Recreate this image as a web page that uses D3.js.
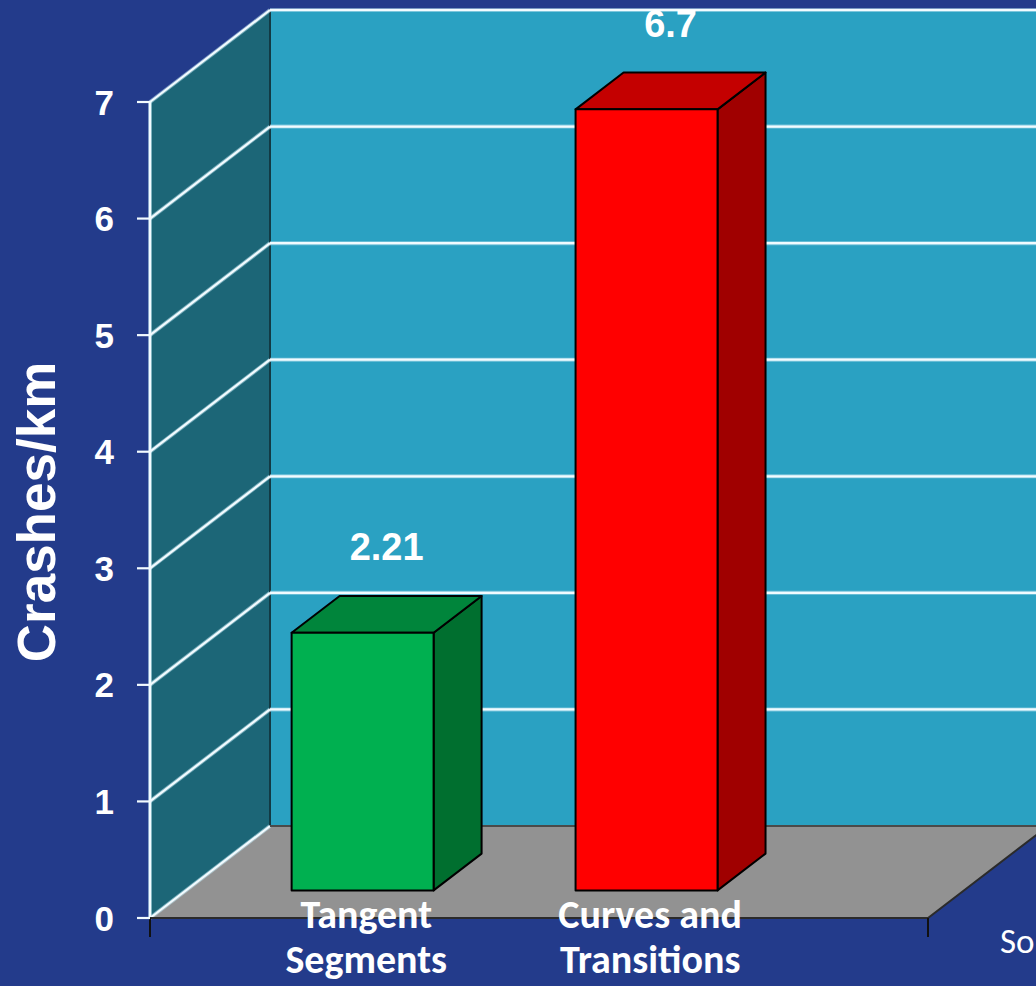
<!DOCTYPE html>
<html><head><meta charset="utf-8">
<script src="https://cdn.jsdelivr.net/npm/d3@7"></script>
<style>html,body{margin:0;padding:0;background:#233b8b;overflow:hidden}svg{display:block}</style>
</head><body>
<svg id="chart" width="1036" height="986"></svg>
<script>
// ---- data ----
const categories = ["Tangent Segments", "Curves and Transitions"];
const categoryLines = [["Tangent", "Segments"], ["Curves and", "Transitions"]];
const values = [2.21, 6.7];
const valueLabels = ["2.21", "6.7"];
const yTicks = [0, 1, 2, 3, 4, 5, 6, 7];
const yTitle = "Crashes/km";
const sourceText = "So";

// ---- styles ----
const C = {
  bg: "#233b8b", back: "#2aa1c2", side: "#1c6677", floor: "#929292",
  grid: "#f2fbff", edge: "#2b2b2b",
  bars: [
    {front: "#00b050", top: "#00853b", side: "#006f2f"},
    {front: "#ff0000", top: "#c40000", side: "#a00000"}
  ]
};
const W = 1036, H = 986;
const DX = 120, DY = -92;          // full depth offset
const Z0 = 0.3, Z1 = 0.7;          // bar depth span

const svg = d3.select("#chart");
const y = d3.scaleLinear().domain([0, 7]).range([918, 102]);
const x = d3.scaleBand().domain(categories).range([150, 928])
  .paddingInner(0.5).paddingOuter(0.62).align(0.3);
const X0 = x.range()[0], X1 = x.range()[1];

svg.append("rect").attr("width", W).attr("height", H).attr("fill", C.bg);

const poly = pts => pts.map(p => p.join(",")).join(" ");

// back wall
svg.append("polygon").attr("fill", C.back)
  .attr("points", poly([[X0 + DX, y(7) + DY], [X1 + DX, y(7) + DY], [X1 + DX, y(0) + DY], [X0 + DX, y(0) + DY]]));
// side wall
svg.append("polygon").attr("fill", C.side)
  .attr("points", poly([[X0, y(0)], [X0, y(7)], [X0 + DX, y(7) + DY], [X0 + DX, y(0) + DY]]));
// floor
svg.append("polygon").attr("fill", C.floor)
  .attr("points", poly([[X0, y(0)], [X0 + DX, y(0) + DY], [X1 + DX, y(0) + DY], [X1, y(0)]]));

// side/back wall boundary
svg.append("line").attr("x1", X0 + DX).attr("x2", X0 + DX).attr("y1", y(7) + DY).attr("y2", y(0) + DY)
  .attr("stroke", "#123a44").attr("stroke-width", 2);

// gridlines (soft glow + white core)
const g0 = svg.append("g").attr("stroke", "#bfe6f2").attr("stroke-opacity", 0.55).attr("stroke-width", 4).attr("fill", "none");
const g = svg.append("g").attr("stroke", C.grid).attr("stroke-width", 2.2).attr("fill", "none");
[g0, g].forEach(gg => {
  yTicks.forEach(t => {
    if (t > 0) gg.append("line").attr("x1", X0 + DX).attr("x2", X1 + DX)
      .attr("y1", y(t) + DY).attr("y2", y(t) + DY);
    gg.append("line").attr("x1", X0).attr("y1", y(t)).attr("x2", X0 + DX).attr("y2", y(t) + DY);
  });
  gg.append("line").attr("x1", X0).attr("x2", X0).attr("y1", y(0)).attr("y2", y(7));
});

// floor edges
const e = svg.append("g").attr("stroke", C.edge).attr("stroke-width", 2).attr("fill", "none");
e.append("line").attr("x1", X0 + DX).attr("x2", X1 + DX).attr("y1", y(0) + DY).attr("y2", y(0) + DY).attr("stroke", "#4a4a4a");
e.append("polyline").attr("points", poly([[X0, y(0)], [X1, y(0)], [X1 + DX, y(0) + DY]]));
[X0, X1].forEach(xx => e.append("line").attr("x1", xx).attr("x2", xx).attr("y1", y(0)).attr("y2", y(0) + 19).attr("stroke", "#111"));

// y axis ticks + labels
const ya = svg.append("g");
yTicks.forEach(t => {
  ya.append("line").attr("x1", X0 - 13).attr("x2", X0).attr("y1", y(t)).attr("y2", y(t))
    .attr("stroke", C.grid).attr("stroke-width", 2.2);
  ya.append("text").attr("x", 114).attr("y", y(t)).attr("dy", "0.36em")
    .attr("text-anchor", "end").attr("fill", "#fff")
    .attr("font-family", "'Liberation Sans', Arial, sans-serif").attr("font-weight", "bold")
    .attr("font-size", 35).text(d3.format("d")(t));
});

// y title
svg.append("text").attr("transform", `translate(55,512) rotate(-90)`)
  .attr("text-anchor", "middle").attr("fill", "#fff")
  .attr("font-family", "'Liberation Sans', Arial, sans-serif").attr("font-weight", "bold")
  .attr("font-size", 53).text(yTitle);

// bars
const bw = x.bandwidth();
categories.forEach((cat, i) => {
  const xb = x(cat), v = values[i], col = C.bars[i];
  const fx = xb + Z0 * DX, bx = xb + Z1 * DX;
  const fTop = y(v) + Z0 * DY, fBot = y(0) + Z0 * DY;
  const bTop = y(v) + Z1 * DY, bBot = y(0) + Z1 * DY;
  const bg = svg.append("g").attr("stroke", "#000").attr("stroke-width", 2).attr("stroke-linejoin", "round");
  bg.append("polygon").attr("fill", col.side)
    .attr("points", poly([[fx + bw, fTop], [bx + bw, bTop], [bx + bw, bBot], [fx + bw, fBot]]));
  bg.append("polygon").attr("fill", col.top)
    .attr("points", poly([[fx, fTop], [bx, bTop], [bx + bw, bTop], [fx + bw, fTop]]));
  bg.append("rect").attr("fill", col.front).attr("x", fx).attr("y", fTop).attr("width", bw).attr("height", fBot - fTop);
  // value label
  svg.append("text").attr("x", xb + (Z0 + Z1) / 2 * DX + bw / 2).attr("y", y(v) - 100)
    .attr("text-anchor", "middle").attr("fill", "#fff")
    .attr("font-family", "'Liberation Sans', Arial, sans-serif").attr("font-weight", "bold")
    .attr("font-size", 38).text(valueLabels[i]);
  // category label
  const ct = svg.append("text").attr("text-anchor", "middle").attr("fill", "#fff")
    .attr("font-family", "Carlito, Lato, 'Open Sans', sans-serif").attr("font-weight", "bold")
    .attr("font-size", 40);
  categoryLines[i].forEach((ln, j) => {
    ct.append("tspan").attr("x", xb + bw / 2 + 0.33 * DX).attr("y", 928 + j * 45).text(ln);
  });
});

// source note at the right edge
svg.append("text").attr("x", 1000).attr("y", 953).attr("fill", "#fff")
  .attr("font-family", "Carlito, Lato, 'Open Sans', sans-serif").attr("font-size", 35).text(sourceText);
</script>
</body></html>
